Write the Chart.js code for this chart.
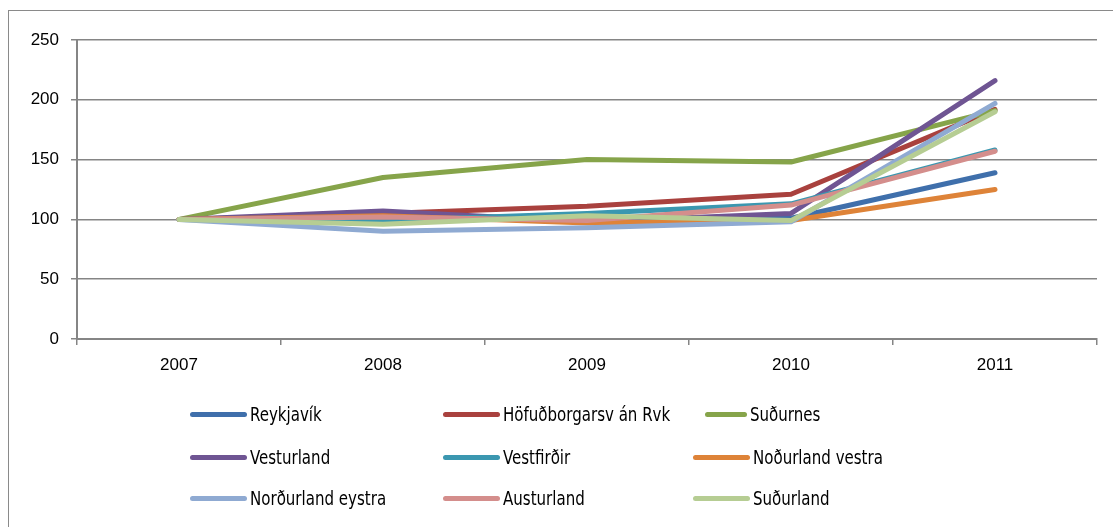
<!DOCTYPE html>
<html>
<head>
<meta charset="utf-8">
<script src="https://cdn.jsdelivr.net/npm/chart.js@4/dist/chart.umd.min.js"></script>
<style>
  body { margin: 0; background: #fff; }
  .wrap { position: relative; width: 1113px; height: 527px; overflow: hidden; }
  .frame { position: absolute; left: 8px; top: 10px; width: 1200px; height: 600px;
           border-left: 1px solid #8a8a8a; border-top: 1px solid #8a8a8a; }
  canvas { position: absolute; left: 0; top: 0; }
  .legend-item { position: absolute; height: 24px; display: flex; align-items: center;
                 font-family: "Liberation Sans Narrow", "DejaVu Sans Condensed", sans-serif;
                 font-size: 19px; color: #000; white-space: nowrap; }
  .legend-item span { display: inline-block; transform: scaleX(0.88); transform-origin: left center; }
  .legend-line { height: 5px; border-radius: 3px; margin-right: 3px; }
</style>
</head>
<body>
<div class="wrap">
  <div class="frame"></div>
  <canvas id="myChart" width="1113" height="527"></canvas>
  <div id="legend"></div>
</div>
<script>
// Data
const years = ["2007", "2008", "2009", "2010", "2011"];
const names = ["Reykjavík", "Höfuðborgarsv án Rvk", "Suðurnes", "Vesturland", "Vestfirðir",
  "Noðurland vestra", "Norðurland eystra", "Austurland", "Suðurland"];
const reykjavik = [100, 101, 100, 101, 139];
const hofudborgarsv = [100, 105, 111, 121, 192];
const sudurnes = [100, 135, 150, 148, 191];
const vesturland = [100, 107, 98, 105, 216];
const vestfirdir = [100, 99, 105, 113, 158];
const nordurlandVestra = [100, 103, 97, 99, 125];
const nordurlandEystra = [100, 90, 93, 98, 197];
const austurland = [100, 102, 99, 112, 157];
const sudurland = [100, 96, 103, 99, 190];
const yTicks = [0, 50, 100, 150, 200, 250];

const colors = ["#3f6fab", "#a9413e", "#86a44a", "#6f5593", "#3b97b0",
  "#de8338", "#8faad2", "#d48e8c", "#b6cd93"];
const series = [reykjavik, hofudborgarsv, sudurnes, vesturland, vestfirdir,
  nordurlandVestra, nordurlandEystra, austurland, sudurland];

const ctx = document.getElementById("myChart").getContext("2d");

const myChart = new Chart(ctx, {
  type: "line",
  data: {
    labels: years,
    datasets: series.map((values, i) => ({
      label: names[i],
      data: values,
      borderColor: colors[i],
      backgroundColor: colors[i],
      borderWidth: 5,
      pointRadius: 0,
      borderCapStyle: "round",
      borderJoinStyle: "round",
      tension: 0,
      order: series.length - i
    }))
  },
  options: {
    responsive: false,
    animation: false,
    layout: { padding: { top: 40, right: 16, left: 0, bottom: 0 } },
    plugins: { legend: { display: false }, tooltip: { enabled: false } },
    scales: {
      x: {
        offset: true,
        grid: { offset: true, drawOnChartArea: false, drawTicks: true, tickLength: 6, color: "#858585", lineWidth: 1.5 },
        border: { color: "#858585", width: 2 },
        ticks: { color: "#000", padding: 10, font: { family: "Liberation Sans", size: 17 } },
        afterFit: (scale) => { scale.height = 527 - 339; }
      },
      y: {
        min: 0,
        max: 250,
        afterBuildTicks: (scale) => { scale.ticks = yTicks.map((v) => ({ value: v })); },
        grid: { color: "#858585", lineWidth: 1.5, tickLength: 6 },
        border: { color: "#858585", width: 2 },
        ticks: { color: "#000", padding: 12, font: { family: "Liberation Sans", size: 17 } },
        afterFit: (scale) => { scale.width = 77; }
      }
    }
  }
});

// Legend
const legendPos = [
  [190, 414, 57], [443, 414, 57], [705, 414, 42],
  [190, 457, 57], [443, 457, 57], [693, 457, 57],
  [190, 498, 57], [443, 498, 57], [693, 498, 57]
];
const legend = document.getElementById("legend");
names.forEach((name, i) => {
  const item = document.createElement("div");
  item.classList.add("legend-item");
  item.style.left = legendPos[i][0] + "px";
  item.style.top = (legendPos[i][1] - 12) + "px";
  const line = document.createElement("div");
  line.classList.add("legend-line");
  line.style.width = legendPos[i][2] + "px";
  line.style.backgroundColor = colors[i];
  const text = document.createElement("span");
  text.innerText = name;
  item.append(line, text);
  legend.appendChild(item);
});
</script>
</body>
</html>
